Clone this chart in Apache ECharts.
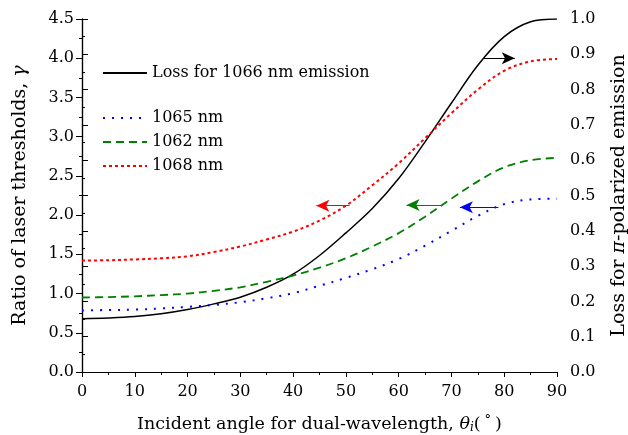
<!DOCTYPE html>
<html><head><meta charset="utf-8">
<script src="https://cdn.jsdelivr.net/npm/echarts@6/dist/echarts.min.js"></script>
<style>html,body{margin:0;padding:0;background:#fff}#c{width:628px;height:435px}</style>
</head><body><div id="c"></div>
<script>
const angles = [0,5,10,15,20,25,30,35,40,45,50,55,60,65,70,75,80,85,90];
const loss1066 = [0.151,0.153,0.157,0.165,0.177,0.193,0.212,0.240,0.277,0.330,0.394,0.463,0.548,0.652,0.762,0.869,0.950,0.992,1.0];
const ratio1065 = [0.785,0.79,0.795,0.81,0.83,0.855,0.89,0.94,1.005,1.10,1.20,1.31,1.44,1.61,1.80,1.99,2.14,2.20,2.21];
const ratio1062 = [0.95,0.955,0.965,0.98,1.0,1.035,1.08,1.15,1.23,1.33,1.45,1.60,1.77,1.98,2.21,2.43,2.61,2.70,2.73];
const ratio1068 = [1.42,1.425,1.435,1.45,1.475,1.53,1.60,1.69,1.79,1.93,2.12,2.38,2.66,2.98,3.30,3.60,3.84,3.96,3.99];
const names = ['Loss for 1066 nm emission','1065 nm','1062 nm','1068 nm'];
// arrows: [fromAngle, toAngle, value]
const arrowLoss = [76.0, 82.0, 0.889];
const arrow1065 = [78.9, 71.6, 2.10];
const arrow1062 = [68.1, 61.5, 2.13];
const arrow1068 = [50.7, 44.4, 2.12];

const F = 'DejaVu Serif';
const pts = a => angles.map((x,i)=>[x,a[i]]);
function arrow(a, color){
  return {silent:true, symbol:['none','arrow'], symbolSize:[9,13], label:{show:false},
    lineStyle:{type:'solid', width:1, color:color}, emphasis:{disabled:true},
    data:[[{coord:[a[0],a[2]]},{coord:[a[1],a[2]]}]]};
}
const chart = echarts.init(document.getElementById('c'));
const axisLine = {show:true, lineStyle:{color:'#000', width:1.2}};
const legText = {fontFamily:F, fontSize:16, color:'#000'};
chart.setOption({
  animation:false,
  textStyle:{fontFamily:F},
  grid:{left:82, right:71, top:19, bottom:63, outerBoundsMode:'none', containLabel:false},
  legend:[
    {data:[names[0]], left:97, top:60, itemWidth:44, itemHeight:14, itemGap:5,
     itemStyle:{opacity:0}, textStyle:legText},
    {data:names.slice(1), orient:'vertical', left:97, top:105, itemWidth:44, itemHeight:14, itemGap:8,
     itemStyle:{opacity:0}, textStyle:legText}
  ],
  xAxis:[
    {type:'value', min:0, max:90, interval:10, position:'bottom',
     name:'{n|Incident angle for dual-wavelength, }{t|θ}{s|i}{n|(}{d|°}{n|)}',
     nameLocation:'middle', nameGap:42,
     nameTextStyle:{fontFamily:F, fontSize:17.5, color:'#000',
       rich:{n:{fontFamily:F,fontSize:17.5,color:'#000'}, t:{fontFamily:F,fontSize:17.5,fontStyle:'italic',color:'#000'},
             s:{fontFamily:F,fontSize:12,fontStyle:'italic',color:'#000',verticalAlign:'bottom',padding:[8,0,0,0]},
             d:{fontFamily:F,fontSize:13,color:'#000',padding:[0,4,7,4]}}},
     axisLine:axisLine, axisTick:{show:true, inside:false, length:5, lineStyle:{color:'#000'}},
     minorTick:{show:true, splitNumber:2, length:3, lineStyle:{color:'#000'}},
     axisLabel:{fontFamily:F, fontSize:16, color:'#000', margin:12},
     splitLine:{show:false}},
    {type:'value', min:0, max:90, interval:5, position:'top',
     axisLine:axisLine, axisTick:{show:true, inside:true, length:3, lineStyle:{color:'#000'}},
     axisLabel:{show:false}, splitLine:{show:false}}
  ],
  yAxis:[
    {type:'value', min:0, max:4.5, interval:0.5, position:'left',
     name:'{n|Ratio of laser thresholds, }{t|γ}', nameLocation:'middle', nameGap:52, nameRotate:90,
     nameTextStyle:{fontFamily:F, fontSize:19, color:'#000',
       rich:{n:{fontFamily:F,fontSize:19,color:'#000'}, t:{fontFamily:F,fontSize:19,fontStyle:'italic',color:'#000'}}},
     axisLine:axisLine, axisTick:{show:true, inside:false, length:6, lineStyle:{color:'#000'}},
     minorTick:{show:true, splitNumber:2, length:3, lineStyle:{color:'#000'}},
     axisLabel:{fontFamily:F, fontSize:16, color:'#000', margin:8, formatter:v=>v.toFixed(1)},
     splitLine:{show:false}},
    {type:'value', min:0, max:1.0, interval:0.1, position:'right',
     name:'{n|Loss for }{t|π}{n|-polarized emission}', nameLocation:'middle', nameGap:53, nameRotate:90,
     nameTextStyle:{fontFamily:F, fontSize:19, color:'#000',
       rich:{n:{fontFamily:F,fontSize:19,color:'#000'}, t:{fontFamily:F,fontSize:19,fontStyle:'italic',color:'#000'}}},
     axisLine:axisLine, axisTick:{show:true, inside:false, length:6, lineStyle:{color:'#000'}},
     minorTick:{show:true, splitNumber:2, length:3, lineStyle:{color:'#000'}},
     axisLabel:{fontFamily:F, fontSize:16, color:'#000', margin:13, formatter:v=>v.toFixed(1)},
     splitLine:{show:false}}
  ],
  series:[
    {name:names[0], type:'line', xAxisIndex:0, yAxisIndex:1, data:pts(loss1066), smooth:0.35,
     showSymbol:false, symbol:'none', color:'#000', lineStyle:{color:'#000', width:1.5, type:'solid'},
     markLine:arrow(arrowLoss,'#000')},
    {name:names[1], type:'line', xAxisIndex:0, yAxisIndex:0, data:pts(ratio1065), smooth:0.35,
     showSymbol:false, symbol:'none', color:'#0000ff', lineStyle:{color:'#0000ff', width:2, type:[2,7]},
     markLine:arrow(arrow1065,'#0000ff')},
    {name:names[2], type:'line', xAxisIndex:0, yAxisIndex:0, data:pts(ratio1062), smooth:0.35,
     showSymbol:false, symbol:'none', color:'#008000', lineStyle:{color:'#008000', width:1.8, type:[8,5]},
     markLine:arrow(arrow1062,'#008000')},
    {name:names[3], type:'line', xAxisIndex:0, yAxisIndex:0, data:pts(ratio1068), smooth:0.35,
     showSymbol:false, symbol:'none', color:'#ff0000', lineStyle:{color:'#ff0000', width:2, type:[3,3]},
     markLine:arrow(arrow1068,'#ff0000')}
  ]
});
</script></body></html>
